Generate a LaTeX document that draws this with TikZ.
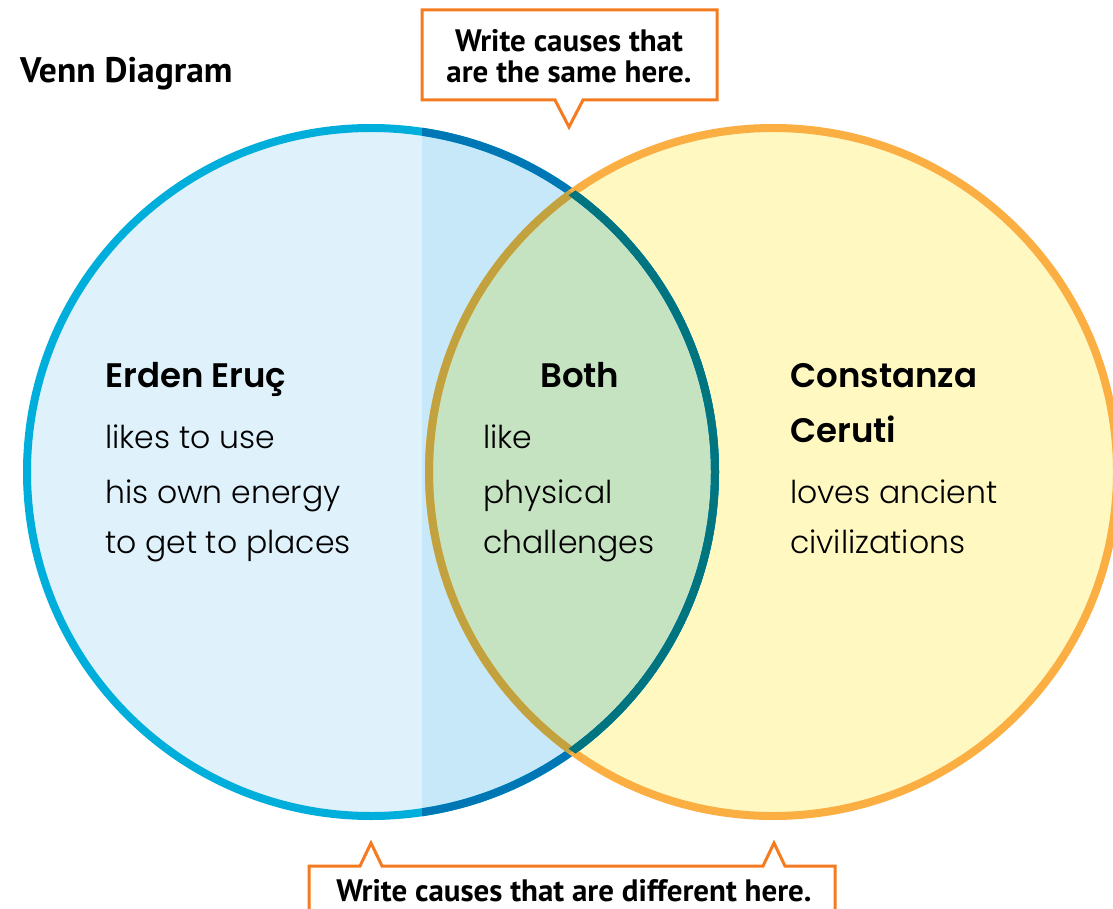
\documentclass[tikz,border=0pt]{standalone}
\usepackage{fontspec}
\setmainfont{PT Sans}
\newfontfamily\hand{Poppins}[UprightFont={* Light},BoldFont={* SemiBold}]
\definecolor{lblue}{HTML}{DFF1FB}
\definecolor{mblue}{HTML}{C6E8F9}
\definecolor{cyanline}{HTML}{00AEDB}
\definecolor{dblue}{HTML}{0077B5}
\definecolor{yfill}{HTML}{FFF8C1}
\definecolor{oline}{HTML}{FBAE41}
\definecolor{gfill}{HTML}{C6E3C1}
\definecolor{olive}{HTML}{C1A23F}
\definecolor{teal2}{HTML}{007580}
\definecolor{callout}{HTML}{F47B20}
\tikzset{
  ring/.style={line width=8pt},
  callbox/.style={draw=callout,line width=3pt,fill=white,line join=miter},
  calltext/.style={font=\bfseries\fontsize{31}{31}\selectfont,anchor=base,inner sep=0pt},
  head/.style={font=\hand\bfseries\fontsize{34}{54}\selectfont,anchor=base west,inner sep=0pt},
  body/.style={font=\hand\fontsize{31.5}{53}\selectfont,anchor=base west,inner sep=0pt},
}
\begin{document}
\begin{tikzpicture}[x=1pt,y=-1pt]
\useasboundingbox (0,0) rectangle (1113,909);
\begin{scope}
\clip (0,0) rectangle (1113,909);
\coordinate (L) at (371,472);
\coordinate (R) at (773,472);
% fills
\fill[lblue] (L) circle (344pt);
\begin{scope}
  \clip (L) circle (344pt);
  \fill[mblue] (422,100) rectangle (900,850);
\end{scope}
\fill[yfill] (R) circle (344pt);
\begin{scope}
  \clip (L) circle (344pt);
  \fill[gfill] (R) circle (344pt);
\end{scope}
% outlines
\draw[ring,cyanline] (L) circle (344pt);
\begin{scope}
  \clip (422,100) rectangle (900,850);
  \draw[ring,dblue] (L) circle (344pt);
\end{scope}
\draw[ring,oline] (R) circle (344pt);
\begin{scope}
  \clip (L) circle (344pt);
  \draw[ring,olive] (R) circle (344pt);
\end{scope}
\begin{scope}
  \clip (R) circle (344pt);
  \draw[ring,teal2] (L) circle (344pt);
\end{scope}
% callouts
\draw[callbox] (422,10) -- (717,10) -- (717,100) -- (583,100) -- (569,127) -- (555,100) -- (422,100) -- cycle;
\node[calltext] (same1) at (569,52) {Write causes that};
\node[calltext] (same2) at (569,83) {are the same here.};
\draw[callbox] (309,920) -- (309,866) -- (360,866) -- (371,843) -- (382,866) -- (763,866) -- (774,843) -- (785,866) -- (835,866) -- (835,920);
\node[calltext] (diff) at (574,901) {Write causes that are different here.};
\end{scope}
% title
\node[font=\bfseries\fontsize{35.5}{36}\selectfont,anchor=base west,inner sep=0pt] (title) at (20,83) {Venn Diagram};
% texts
\node[head] (erden) at (105,387) {Erden Eruç};
\node[body] (e1) at (105,448) {likes to use};
\node[body] (e2) at (105,503) {his own energy};
\node[body] (e3) at (105,553) {to get to places};
\node[head] (both) at (540,387) {Both};
\node[body] (b1) at (483,448) {like};
\node[body] (b2) at (483,503) {physical};
\node[body] (b3) at (483,553) {challenges};
\node[head] (con) at (790,387) {Constanza};
\node[head] (cer) at (790,442) {Ceruti};
\node[body] (c1) at (790,503) {loves ancient};
\node[body] (c2) at (790,553) {civilizations};
\end{tikzpicture}
\end{document}
